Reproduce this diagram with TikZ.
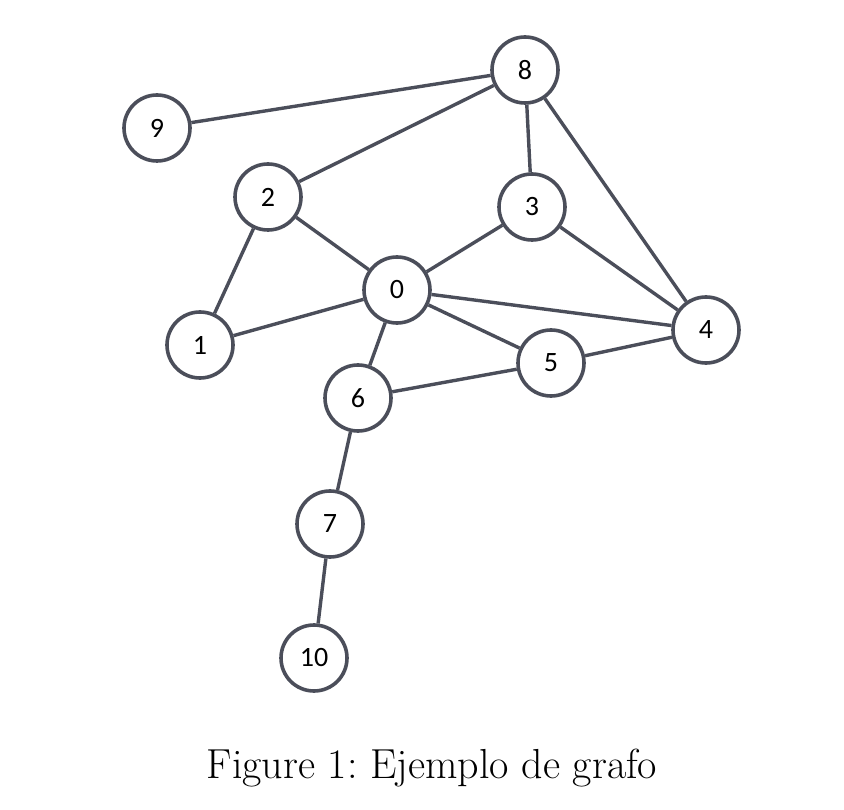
\documentclass[tikz,border=0pt]{standalone}
\usepackage{fontspec}
\newfontfamily\nodefont{Carlito}
\usepackage{tikz}
\usetikzlibrary{positioning}
\definecolor{EdgeGray}{HTML}{4B4E5A}

\begin{document}
\begin{tikzpicture}[
    x=1pt,y=-1pt,
    vertex/.style={circle,draw=EdgeGray,line width=3.6pt,fill=white,minimum size=66pt,inner sep=0pt,font=\nodefont\fontsize{28}{30}\selectfont},
    edge/.style={draw=EdgeGray,line width=3.4pt}
  ]
    \useasboundingbox (0,0) rectangle (844,810);
    % vertices
    \node[vertex] (n8) at (525,70) {8};
    \node[vertex] (n9) at (157,128) {9};
    \node[vertex] (n2) at (268,197) {2};
    \node[vertex] (n3) at (532,207) {3};
    \node[vertex] (n0) at (397,290) {0};
    \node[vertex] (n1) at (200,345) {1};
    \node[vertex] (n4) at (706,330) {4};
    \node[vertex] (n5) at (551,363) {5};
    \node[vertex] (n6) at (358,398) {6};
    \node[vertex] (n7) at (330,524) {7};
    \node[vertex] (n10) at (314,658) {10};

    % edges
    \draw[edge] (n9)--(n8);
    \draw[edge] (n2)--(n8);
    \draw[edge] (n8)--(n3);
    \draw[edge] (n8)--(n4);
    \draw[edge] (n2)--(n1);
    \draw[edge] (n2)--(n0);
    \draw[edge] (n3)--(n0);
    \draw[edge] (n3)--(n4);
    \draw[edge] (n1)--(n0);
    \draw[edge] (n0)--(n4);
    \draw[edge] (n0)--(n5);
    \draw[edge] (n5)--(n4);
    \draw[edge] (n0)--(n6);
    \draw[edge] (n6)--(n5);
    \draw[edge] (n6)--(n7);
    \draw[edge] (n7)--(n10);

    \node[font=\fontsize{42}{48}\selectfont] (caption) at (432,768) {Figure 1:\ Ejemplo de grafo};
  \end{tikzpicture}
\end{document}
